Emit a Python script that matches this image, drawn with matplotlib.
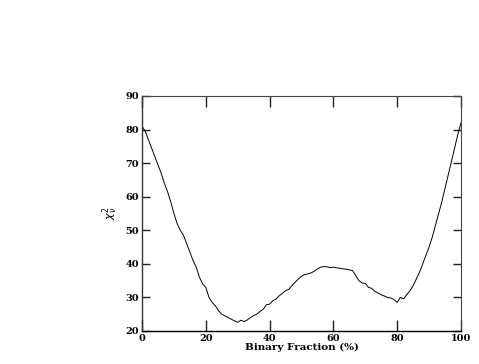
import numpy as np
import matplotlib
matplotlib.use("Agg")
import matplotlib.pyplot as plt

# binary fraction (%) and chi^2
frac = np.arange(0, 101, 1)
chi2 = [81, 79.5, 77, 74.5, 72, 69.5, 67, 64, 61.5, 58.5,
        55, 52, 50, 48.5, 46, 43.5, 41, 39, 36, 34,
        33, 30, 28.5, 27.5, 26, 25, 24.5, 24, 23.5, 23,
        22.6, 23.2, 22.8, 23.3, 24, 24.6, 25, 25.8, 26.5, 27.8,
        28, 29, 29.5, 30.5, 31.2, 32, 32.4, 33.5, 34.5, 35.5,
        36.3, 36.8, 37, 37.3, 37.8, 38.5, 39, 39.2, 39.1, 38.9,
        39, 38.8, 38.7, 38.5, 38.4, 38.2, 38, 36.5, 35, 34.3,
        34.2, 33, 32.7, 31.8, 31.3, 30.8, 30.4, 30, 29.8, 29.4,
        28.5, 30, 29.6, 30.8, 32, 33.5, 35.5, 37.5, 40, 42.5,
        45, 48, 51.5, 55, 58.5, 62.5, 66.5, 70.5, 74.5, 78.5,
        82]
xticks = [0, 20, 40, 60, 80, 100]
yticks = [20, 30, 40, 50, 60, 70, 80, 90]

plt.rcParams['font.family'] = ['DejaVu Serif']
fig = plt.figure(figsize=(4.79, 3.64), dpi=100)
ax = fig.add_axes([0.2965, 0.0907, 0.6659, 0.6456])

ax.plot(frac, chi2, color="black", lw=0.7)
ax.set_xlim(0, 100)
ax.set_ylim(20, 90)
ax.set_xticks(xticks)
ax.set_yticks(yticks)
ax.tick_params(direction="in", length=6, width=1, labelsize=7, pad=2,
               top=True, right=True, colors="#222222", labelcolor="black")
ax.tick_params(axis="x", length=8)
for lab in ax.get_xticklabels() + ax.get_yticklabels():
    lab.set_fontweight("bold")

ax.spines["left"].set_linewidth(1.0)
ax.spines["bottom"].set_linewidth(1.0)
ax.spines["left"].set_color("#333333")
ax.spines["top"].set_linestyle((0, (1, 1)))
ax.spines["right"].set_linestyle((0, (1, 1)))
ax.spines["top"].set_linewidth(0.8)
ax.spines["right"].set_linewidth(0.8)
ax.spines["top"].set_color("#444444")
ax.spines["right"].set_color("#444444")

ax.set_xlabel("Binary Fraction (%)", fontsize=7.5, fontweight="bold", labelpad=0)
ax.set_ylabel(r"$\chi_\nu^2$", fontsize=8, labelpad=4)

fig.savefig("out.png", dpi=100)
